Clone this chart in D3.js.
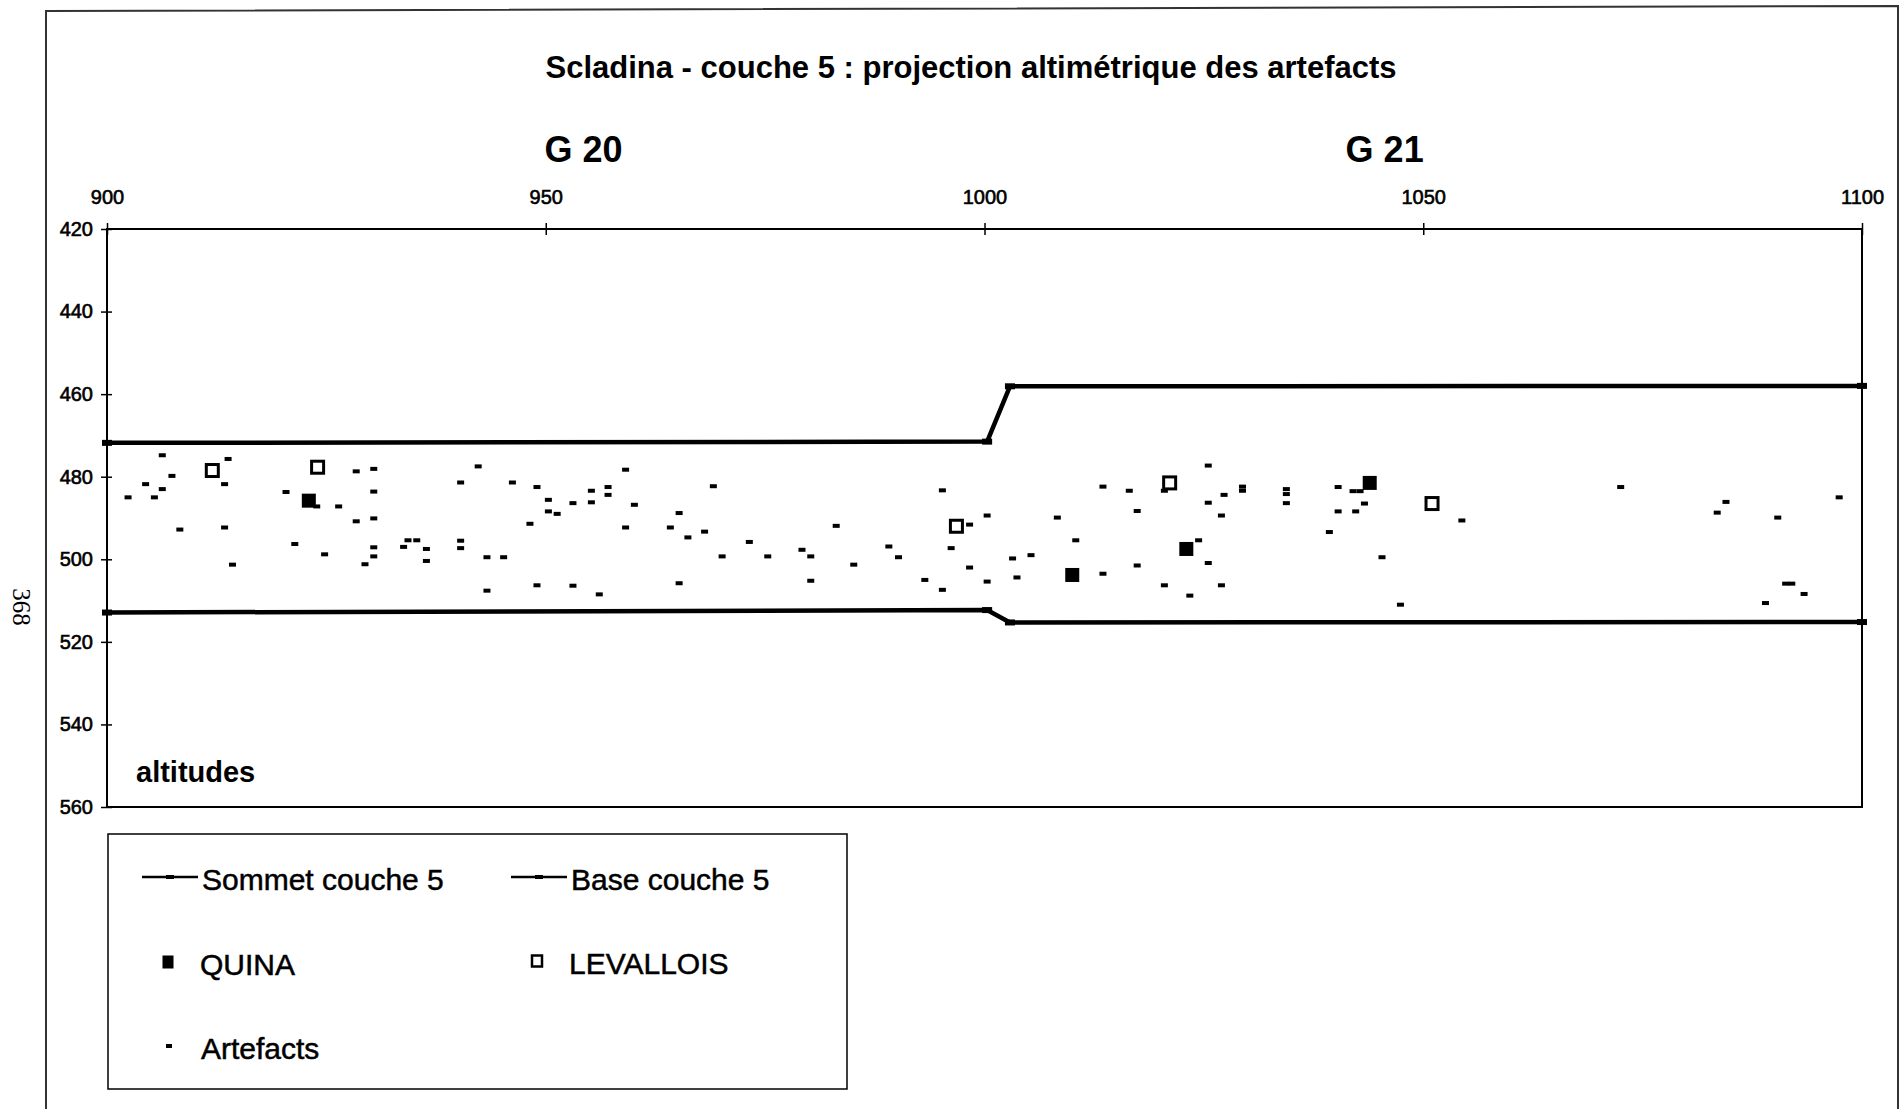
<!DOCTYPE html>
<html lang="fr">
<head>
<meta charset="UTF-8">
<title>Scladina - couche 5</title>
<script src="https://d3js.org/d3.v7.min.js"></script>
<style>
  body, html { margin: 0; padding: 0; background: #fff; overflow: hidden; }
  svg { display: block; font-family: "Liberation Sans", Arial, sans-serif; }
  .tick text { font-size: 20px; fill: #000; stroke: #000; stroke-width: 0.6px; }
  .tick line { stroke: #000; stroke-width: 1.5px; }
</style>
</head>
<body>
<svg></svg>
<script>
// top x axis ticks and y ticks
const xTicks = [900, 950, 1000, 1050, 1100];
const yTicks = [420, 440, 460, 480, 500, 520, 540, 560];

// layer limits (x, altitude)
const sommet = [[900, 471.8], [1000.3, 471.5], [1002.9, 458.1], [1100, 458.0]];
const base = [[900, 512.9], [1000.3, 512.3], [1002.9, 515.3], [1100, 515.2]];

// finds
const quina = [[923.0, 485.8], [1010.0, 503.8], [1023.0, 497.5], [1043.9, 481.5]];
const levallois = [[912.0, 478.5], [924.0, 477.7], [996.8, 492.0], [1021.1, 481.5], [1051.0, 486.5]];
const artefacts = [
  [902.4, 485.0], [904.4, 481.8], [905.4, 485.0], [906.3, 474.8], [906.3, 483.0], [907.4, 479.8], [908.3, 492.8],
  [913.4, 481.8], [913.8, 475.7], [913.4, 492.3], [914.3, 501.3], [920.4, 483.7], [921.4, 496.3], [923.9, 487.2],
  [924.8, 498.8], [926.4, 487.2], [928.4, 478.7], [930.4, 478.1], [930.4, 483.6], [928.4, 490.8], [930.4, 490.1],
  [930.4, 497.1], [930.4, 499.3], [929.4, 501.2], [933.8, 497.0], [934.3, 495.4], [935.3, 495.4], [936.4, 497.5],
  [936.4, 500.4], [940.3, 481.4], [940.3, 495.5], [940.3, 497.3], [942.3, 477.5], [943.3, 499.5], [945.2, 499.5],
  [943.3, 507.6], [946.2, 481.4], [948.2, 491.4], [949.0, 482.5], [949.0, 506.3],
  [950.3, 485.6], [950.3, 488.4], [951.3, 489.0], [953.1, 486.4], [953.1, 506.4], [955.2, 483.4], [955.2, 486.2],
  [957.1, 482.5], [957.1, 484.4], [956.1, 508.5], [959.1, 478.3], [959.1, 492.3], [960.1, 486.8], [964.2, 492.3],
  [965.2, 488.8], [965.2, 505.8], [966.2, 494.7], [968.1, 493.3], [969.1, 482.3], [970.1, 499.3], [973.2, 495.8],
  [975.3, 499.3], [979.2, 497.7], [980.2, 499.3], [980.2, 505.2], [983.1, 491.9], [985.1, 501.3], [989.1, 496.9],
  [990.2, 499.5], [993.2, 505.0], [995.2, 483.3], [995.2, 507.4], [998.3, 491.6], [996.2, 497.3], [998.3, 502.0],
  [1000.3, 489.4], [1000.3, 505.4], [1003.2, 499.8], [1003.7, 504.4], [1005.3, 499.0], [1008.3, 489.9], [1010.4, 495.4],
  [1013.5, 482.4], [1013.5, 503.5], [1016.5, 483.4], [1017.4, 488.3], [1017.4, 501.5], [1020.5, 483.4], [1020.5, 506.3],
  [1024.4, 495.4], [1023.4, 508.8], [1025.5, 477.3], [1025.5, 486.3], [1025.5, 500.9], [1027.3, 484.4], [1027.0, 489.4],
  [1027.0, 506.3], [1029.4, 482.4], [1029.4, 483.4], [1034.4, 483.0], [1034.4, 484.2], [1034.4, 486.4], [1040.3, 482.5],
  [1040.3, 488.4], [1039.3, 493.4], [1042.0, 483.5], [1042.8, 483.5], [1043.3, 486.5], [1042.3, 488.4], [1045.3, 499.5],
  [1047.4, 511.0],
  [1054.4, 490.6], [1072.5, 482.5], [1083.5, 488.7], [1084.5, 486.1], [1090.4, 489.9], [1091.3, 505.9], [1092.0, 505.9],
  [1093.4, 508.4], [1089.0, 510.6], [1097.4, 485.0]
];

const width = 1903, height = 1109;
const svg = d3.select("svg").attr("width", width).attr("height", height);

const x = d3.scaleLinear().domain([900, 1100]).range([107, 1862]);
const y = d3.scaleLinear().domain([420, 560]).range([229, 807]);

// page frame of the scan
svg.append("path")
  .attr("d", "M46,1109 L46,11 L1898,6 L1898,1109")
  .attr("fill", "none").attr("stroke", "#333").attr("stroke-width", 2);

svg.append("text")
  .attr("transform", "translate(13,607) rotate(90)")
  .attr("text-anchor", "middle")
  .attr("font-family", "Liberation Serif, serif")
  .attr("font-size", 25)
  .text("368");

// titles
svg.append("text")
  .attr("x", 971).attr("y", 78)
  .attr("text-anchor", "middle")
  .attr("font-weight", "bold").attr("font-size", 31)
  .text("Scladina - couche 5 : projection altimétrique des artefacts");

svg.append("text")
  .attr("x", x(954.3)).attr("y", 162)
  .attr("text-anchor", "middle")
  .attr("font-weight", "bold").attr("font-size", 36)
  .text("G 20");
svg.append("text")
  .attr("x", x(1045.6)).attr("y", 162)
  .attr("text-anchor", "middle")
  .attr("font-weight", "bold").attr("font-size", 36)
  .text("G 21");

// axes
const gx = svg.append("g")
  .attr("transform", `translate(0,${y(420)})`)
  .call(d3.axisTop(x).tickValues(xTicks).tickFormat(d3.format("d"))
    .tickSizeInner(6).tickSizeOuter(0).tickPadding(19));
gx.select(".domain").remove();
gx.selectAll(".tick line").attr("y1", 6).attr("y2", -6);

const gy = svg.append("g")
  .attr("transform", `translate(${x(900)},0)`)
  .call(d3.axisLeft(y).tickValues(yTicks).tickFormat(d3.format("d"))
    .tickSizeInner(6).tickSizeOuter(0).tickPadding(8));
gy.select(".domain").remove();
gy.selectAll(".tick line").attr("x1", 5).attr("x2", -6);

svg.append("rect")
  .attr("x", x(900)).attr("y", y(420))
  .attr("width", x(1100) - x(900)).attr("height", y(560) - y(420))
  .attr("fill", "none").attr("stroke", "#000").attr("stroke-width", 2);

svg.append("text")
  .attr("x", 136).attr("y", 782)
  .attr("font-weight", "bold").attr("font-size", 29)
  .text("altitudes");

// layer lines
const line = d3.line().x(d => x(d[0])).y(d => y(d[1]));
[sommet, base].forEach(s => {
  svg.append("path")
    .datum(s)
    .attr("d", line)
    .attr("fill", "none").attr("stroke", "#000")
    .attr("stroke-width", 4.5).attr("stroke-linejoin", "round");
  svg.append("g").selectAll("rect")
    .data(s)
    .join("rect")
    .attr("x", d => x(d[0]) - 5).attr("y", d => y(d[1]) - 3)
    .attr("width", 10).attr("height", 6).attr("fill", "#000");
});

// artefacts (small dashes)
svg.append("g").selectAll("rect")
  .data(artefacts)
  .join("rect")
  .attr("x", d => x(d[0]) - 3.5).attr("y", d => y(d[1]) - 2)
  .attr("width", 7).attr("height", 4).attr("fill", "#000");

// QUINA
svg.append("g").selectAll("rect")
  .data(quina)
  .join("rect")
  .attr("x", d => x(d[0]) - 7).attr("y", d => y(d[1]) - 7)
  .attr("width", 14).attr("height", 14).attr("fill", "#000");

// LEVALLOIS
svg.append("g").selectAll("rect")
  .data(levallois)
  .join("rect")
  .attr("x", d => x(d[0]) - 6).attr("y", d => y(d[1]) - 6)
  .attr("width", 12).attr("height", 12)
  .attr("fill", "#fff").attr("stroke", "#000").attr("stroke-width", 3);

// legend
const lg = svg.append("g");
lg.append("rect")
  .attr("x", 108).attr("y", 834).attr("width", 739).attr("height", 255)
  .attr("fill", "none").attr("stroke", "#000").attr("stroke-width", 1.5);

const legendItems = [
  { label: "Sommet couche 5", type: "line", cx: 170, cy: 877 },
  { label: "Base couche 5", type: "line", cx: 539, cy: 877 },
  { label: "QUINA", type: "quina", cx: 168, cy: 962 },
  { label: "LEVALLOIS", type: "levallois", cx: 537, cy: 961 },
  { label: "Artefacts", type: "artefact", cx: 169, cy: 1046 }
];
legendItems.forEach(it => {
  const g = lg.append("g");
  if (it.type === "line") {
    g.append("line").attr("x1", it.cx - 28).attr("x2", it.cx + 28)
      .attr("y1", it.cy).attr("y2", it.cy)
      .attr("stroke", "#000").attr("stroke-width", 2.5);
    g.append("rect").attr("x", it.cx - 4).attr("y", it.cy - 2)
      .attr("width", 8).attr("height", 4).attr("fill", "#000");
  } else if (it.type === "quina") {
    g.append("rect").attr("x", it.cx - 5.5).attr("y", it.cy - 6.5)
      .attr("width", 11).attr("height", 13).attr("fill", "#000");
  } else if (it.type === "levallois") {
    g.append("rect").attr("x", it.cx - 5).attr("y", it.cy - 5.5)
      .attr("width", 10).attr("height", 11)
      .attr("fill", "#fff").attr("stroke", "#000").attr("stroke-width", 2.5);
  } else {
    g.append("rect").attr("x", it.cx - 3).attr("y", it.cy - 2)
      .attr("width", 6).attr("height", 4).attr("fill", "#000");
  }
  g.append("text")
    .attr("x", it.cx + 32).attr("y", it.cy + 13)
    .attr("font-size", 30)
    .attr("stroke", "#000").attr("stroke-width", 0.5)
    .text(it.label);
});
</script>
</body>
</html>
